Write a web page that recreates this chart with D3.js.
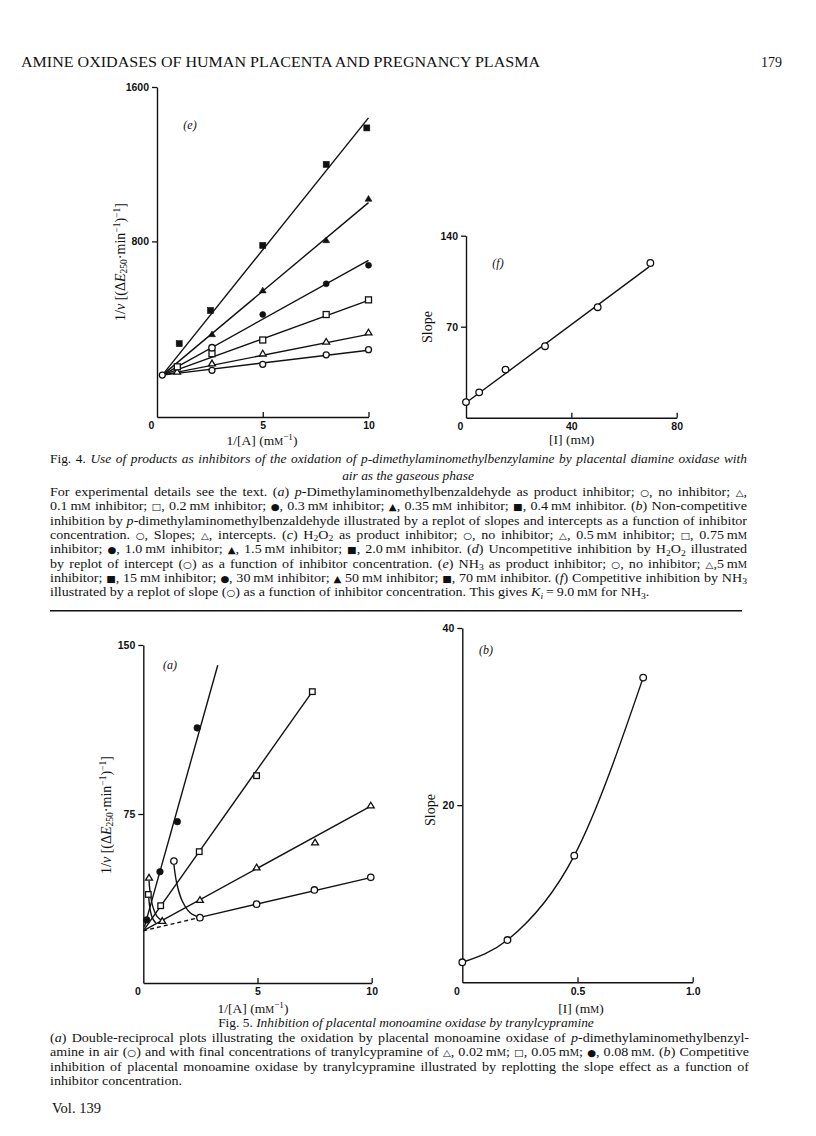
<!DOCTYPE html>
<html><head><meta charset="utf-8">
<script src="https://cdn.jsdelivr.net/npm/d3@7"></script>
<style>body{margin:0;background:#fff} svg{display:block}</style>
</head><body>
<script>
// ---------------- DATA ----------------
// Fig. 4(e): NH3 as product inhibitor, 1/v vs 1/[A]
const e_xTicks = [0, 5, 10];
const e_yTicks = [800, 1600];
const e_origin = [0.25, 107];                       // common intersection of fitted lines
const e_fitEndX = 10;
const e_fitEndY = [236, 318, 494, 702, 1001, 1440]; // fitted line values at 1/[A]=10
const e_shapes = ["circleOpen", "triangleOpen", "squareOpen", "circleFilled", "triangleFilled", "squareFilled"];
const e_none = [[0.25, 107], [2.6, 132], [5, 163], [8, 212], [10, 239]];
const e_5mM = [[0.95, 124], [2.6, 167], [5, 218], [8, 279], [10, 327]];
const e_15mMopen = [[0.96, 150], [2.6, 218], [5, 289], [8, 421], [10, 497]];
const e_30mM = [[5, 421], [8, 580], [10, 676]];
const e_30mMopenPt = [[2.6, 249]];
const e_50mM = [[2.6, 318], [5, 545], [8, 805], [10, 1020]];
const e_70mM = [[1.05, 270], [2.53, 442], [5, 779], [8, 1199], [9.92, 1388]];

// Fig. 4(f): slope replot vs [NH3]
const f_xTicks = [0, 40, 80];
const f_yTicks = [70, 140];
const f_conc = [0, 5, 15, 30, 50, 70];
const f_slope = [12, 19.5, 37, 55, 85, 119];
const f_fit = [[0, 11.5], [69.5, 116]];

// Fig. 5(a): double-reciprocal plots, tranylcypramine
const a_xTicks = [0, 5, 10];
const a_yTicks = [75, 150];
const a_air = [[2.48, 29], [4.96, 35], [7.49, 41.3], [9.96, 46.9]];
const a_airOutlier = [[1.34, 54.1]];
const a_airCurve = [[1.34, 52.6], [1.46, 44.5], [1.7, 36.5], [2.05, 31.2], [2.48, 29.1]];
const a_airFit = [[2.48, 29.1], [10, 46.9]];
const a_airDashed = [[0, 23.2], [2.48, 29.1]];
const a_002 = [[0.25, 46.7], [0.83, 27.5], [2.48, 36.8], [4.96, 51.2], [7.52, 62.3], [9.96, 78.7]];
const a_002Curve = [[0.25, 45.3], [0.31, 39.5], [0.42, 33.8], [0.6, 29.6], [0.83, 27.6]];
const a_002Fit = [[0.05, 23.5], [10, 78.7]];
const a_005 = [[0.22, 39.3], [0.76, 34.3], [2.45, 58.3], [4.96, 92], [7.4, 129.3]];
const a_005Curve = [[0.24, 37.8], [0.3, 32.5], [0.4, 28.8], [0.55, 26.6]];
const a_005Fit = [[0.05, 23.9], [7.4, 129.3]];
const a_008 = [[0.15, 28], [0.73, 49.4], [1.49, 71.6], [2.36, 113.2]];
const a_008Fit = [[0.05, 24.9], [3.26, 141]];

// Fig. 5(b): slope replot vs [I]
const b_xTicks = [0, 0.5, 1.0];
const b_xTickLabels = ["0", "0.5", "1.0"];
const b_yTicks = [20, 40];
const b_conc = [0, 0.196, 0.486, 0.785];
const b_slope = [2.26, 4.77, 14.3, 34.4];

// Text
const headerText = "AMINE OXIDASES OF HUMAN PLACENTA AND PREGNANCY PLASMA";
const pageNumber = "179";
const fig4Title = ["Fig. 4. {i|Use of products as inhibitors of the oxidation of p-dimethylaminomethylbenzylamine by placental diamine oxidase with}",
                   "{i|air as the gaseous phase}"];
const fig4Body = [
 "For experimental details see the text. ({i|a}) {i|p}-Dimethylaminomethylbenzaldehyde as product inhibitor; {y|○}, no inhibitor; {y|△},",
 "0.1\u2009{m} inhibitor; {y|□}, 0.2\u2009{m} inhibitor; {y|●}, 0.3\u2009{m} inhibitor; {y|▲}, 0.35\u2009{m} inhibitor; {y|■}, 0.4\u2009{m} inhibitor. ({i|b}) Non-competitive",
 "inhibition by {i|p}-dimethylaminomethylbenzaldehyde illustrated by a replot of slopes and intercepts as a function of inhibitor",
 "concentration. {y|○}, Slopes; {y|△}, intercepts. ({i|c}) H{b|2}O{b|2} as product inhibitor; {y|○}, no inhibitor; {y|△}, 0.5\u2009{m} inhibitor; {y|□}, 0.75\u2009{m}",
 "inhibitor; {y|●}, 1.0\u2009{m} inhibitor; {y|▲}, 1.5\u2009{m} inhibitor; {y|■}, 2.0\u2009{m} inhibitor. ({i|d}) Uncompetitive inhibition by H{b|2}O{b|2} illustrated",
 "by replot of intercept ({y|○}) as a function of inhibitor concentration. ({i|e}) NH{b|3} as product inhibitor; {y|○}, no inhibitor; {y|△},5\u2009{m}",
 "inhibitor; {y|■}, 15\u2009{m} inhibitor; {y|●}, 30\u2009{m} inhibitor; {y|▲} 50\u2009{m} inhibitor; {y|■}, 70\u2009{m} inhibitor. ({i|f}) Competitive inhibition by NH{b|3}",
 "illustrated by a replot of slope ({y|○}) as a function of inhibitor concentration. This gives {i|K}{j|i}\u2009=\u20099.0\u2009{m} for NH{b|3}."
];
const fig5Title = "Fig. 5. {i|Inhibition of placental monoamine oxidase by tranylcypramine}";
const fig5Body = [
 "({i|a}) Double-reciprocal plots illustrating the oxidation by placental monoamine oxidase of {i|p}-dimethylaminomethylbenzyl-",
 "amine in air ({y|○}) and with final concentrations of tranylcypramine of {y|△}, 0.02\u2009{m}; {y|□}, 0.05\u2009{m}; {y|●}, 0.08\u2009{m}. ({i|b}) Competitive",
 "inhibition of placental monoamine oxidase by tranylcypramine illustrated by replotting the slope effect as a function of",
 "inhibitor concentration."
];
const footerText = "Vol. 139";
const yLabelDiff = "1/{i|v} [(Δ{i|E}{b|250}·min{p|−1}){p|−1}]";
const xLabelRecip = "1/[A] ({m}{p|−1})";
const xLabelConc = "[I] ({m})";
const yLabelSlope = "Slope";

// ---------------- DRAWING ----------------
const SERIF = "'Liberation Serif','Times New Roman',serif";
const TICKF = "'Liberation Sans Narrow','Liberation Sans',Arial,sans-serif";
const INK = "#111";
const svg = d3.select("body").append("svg").attr("width", 816).attr("height", 1136)
  .style("background", "#fff");

function rich(text, str, size) {
  const re = /\{(\w)(?:\|([^}]*))?\}/g;
  let last = 0, m, shift = 0;
  const add = (t, st) => {
    const ts = text.append("tspan").text(t);
    let target = 0;
    if (st === "i") ts.attr("font-style", "italic");
    if (st === "b" || st === "j") { target = size * 0.18; ts.attr("font-size", size * 0.68); }
    if (st === "j") ts.attr("font-style", "italic");
    if (st === "p") { target = -size * 0.34; ts.attr("font-size", size * 0.68); }
    if (st === "c") ts.attr("font-size", size * 0.74);
    if (st === "y") ts.attr("font-family", "'DejaVu Sans',sans-serif").attr("font-size", size * 0.72);
    if (target !== shift) { ts.attr("dy", target - shift); shift = target; }
  };
  while ((m = re.exec(str))) {
    if (m.index > last) add(str.slice(last, m.index), null);
    if (m[1] === "m") { add("m", null); add("M", "c"); }
    else add(m[2], m[1]);
    last = re.lastIndex;
  }
  if (last < str.length) add(str.slice(last), null);
  return text;
}
function line(g, x, y, str, size, anchor, opts = {}) {
  const t = g.append("text").attr("x", x).attr("y", y).attr("font-family", SERIF)
    .attr("font-size", size).attr("fill", INK).attr("text-anchor", anchor || "start");
  rich(t, str, size);
  if (opts.width) {
    const nat = t.node().getComputedTextLength();
    const spaces = (t.text().match(/ /g) || []).length;
    if (spaces) t.attr("word-spacing", ((opts.width - nat) / spaces).toFixed(3));
  }
  return t;
}
// paragraph: glyphs widened to the print's wider face, then justified on the word spaces
function paragraph(g, x, y0, lead, lines, size, width, stretch) {
  lines.forEach((s, i) => {
    const t = g.append("text").attr("x", 0).attr("y", 0).attr("font-family", SERIF)
      .attr("font-size", size).attr("fill", INK)
      .attr("transform", `translate(${x},${y0 + i * lead}) scale(${stretch},1)`);
    rich(t, s, size);
    if (i < lines.length - 1) {
      const nat = t.node().getComputedTextLength();
      const spaces = (t.text().match(/ /g) || []).length;
      if (spaces) t.attr("word-spacing", ((width / stretch - nat) / spaces).toFixed(3));
    }
  });
}

// header
svg.append("text").attr("x", 21).attr("y", 67).attr("font-family", SERIF).attr("font-size", 14)
  .attr("fill", INK).attr("textLength", 519).attr("lengthAdjust", "spacingAndGlyphs").text(headerText);
svg.append("text").attr("x", 782).attr("y", 67).attr("font-family", SERIF).attr("font-size", 14)
  .attr("fill", INK).attr("text-anchor", "end").text(pageNumber);

// marker
function marker(g, px, py, shape, s) {
  s = s || 3;
  const open = shape.endsWith("Open");
  const fill = open ? "#fff" : INK;
  let el;
  if (shape.startsWith("circle")) el = g.append("circle").attr("cx", px).attr("cy", py).attr("r", s);
  else if (shape.startsWith("square")) el = g.append("rect").attr("x", px - s).attr("y", py - s).attr("width", 2 * s).attr("height", 2 * s);
  else {
    const h = s * 1.9, w = s * 1.15;
    el = g.append("path").attr("d", `M${px},${py - h * 0.6}L${px + w},${py + h * 0.4}L${px - w},${py + h * 0.4}Z`);
  }
  el.attr("fill", fill).attr("stroke", INK).attr("stroke-width", open ? 1.3 : 0.6);
}

function axes(g, x, y, xt, yt, xtl) {
  const ya = d3.axisLeft(y).tickValues(yt).tickSize(5).tickSizeOuter(0).tickPadding(3)
    .tickFormat(d3.format("d"));
  const gy = g.append("g").attr("transform", `translate(${x.range()[0]},0)`).call(ya);
  const xa = d3.axisBottom(x).tickValues(xt).tickSize(-5).tickSizeOuter(0).tickPadding(5)
    .tickFormat((d, i) => xtl ? xtl[i] : d3.format("d")(d));
  const gx = g.append("g").attr("transform", `translate(0,${y.range()[0]})`).call(xa);
  [gx, gy].forEach(a => {
    a.select(".domain").attr("stroke", INK).attr("stroke-width", 1.4);
    a.selectAll(".tick line").attr("stroke", INK).attr("stroke-width", 1.3);
    a.selectAll(".tick text").attr("fill", INK).attr("font-family", TICKF)
      .attr("font-weight", "bold").attr("font-size", 10.5);
  });
  gx.selectAll(".tick").filter(d => d === 0).select("line").remove();
  gx.selectAll(".tick").filter(d => d === 0).select("text").attr("dx", -6);
}
function ylabel(g, cx, cy, str, size) {
  const t = g.append("text").attr("transform", `translate(${cx},${cy}) rotate(-90)`)
    .attr("font-family", SERIF).attr("font-size", size).attr("fill", INK)
    .attr("text-anchor", "middle").attr("dy", "0.35em");
  rich(t, str, size);
}
function panelTag(g, px, py, s) {
  g.append("text").attr("x", px).attr("y", py).attr("font-family", SERIF).attr("font-size", 12)
    .attr("font-style", "italic").attr("fill", INK).attr("text-anchor", "middle").text(s);
}
const pathGen = (x, y, curve) => d3.line().x(d => x(d[0])).y(d => y(d[1])).curve(curve || d3.curveLinear);
function drawPath(g, data, x, y, curve, dash) {
  g.append("path").attr("d", pathGen(x, y, curve)(data)).attr("fill", "none")
    .attr("stroke", INK).attr("stroke-width", 1.4).attr("stroke-dasharray", dash || null);
}

// ---- Fig 4(e)
{
  const g = svg.append("g");
  const x = d3.scaleLinear().domain([0, 10]).range([157, 368.5]);
  const y = d3.scaleLinear().domain([-110, 1600]).range([417, 87]);
  axes(g, x, y, e_xTicks, e_yTicks);
  e_fitEndY.forEach(v => drawPath(g, [e_origin, [e_fitEndX, v]], x, y));
  const sets = [e_none, e_5mM, e_15mMopen, e_30mM, e_50mM, e_70mM];
  sets.forEach((s, i) => s.forEach(d => marker(g, x(d[0]), y(d[1]), e_shapes[i], 3)));
  e_30mMopenPt.forEach(d => marker(g, x(d[0]), y(d[1]), "circleOpen", 3.2));
  panelTag(g, 190, 129, "(e)");
  line(g, 262, 444.5, xLabelRecip, 13.5, "middle");
  ylabel(g, 120, 262, yLabelDiff, 14);
}
// ---- Fig 4(f)
{
  const g = svg.append("g");
  const x = d3.scaleLinear().domain([0, 80]).range([466, 676.7]);
  const y = d3.scaleLinear().domain([0, 140]).range([417.7, 235.7]);
  axes(g, x, y, f_xTicks, f_yTicks);
  drawPath(g, f_fit, x, y);
  f_conc.forEach((c, i) => marker(g, x(c), y(f_slope[i]), "circleOpen", 3.3));
  panelTag(g, 498, 267, "(f)");
  line(g, 571.7, 444, xLabelConc, 13.5, "middle");
  ylabel(g, 427, 327, yLabelSlope, 14);
}
// ---- Fig 5(a)
{
  const g = svg.append("g");
  const x = d3.scaleLinear().domain([0, 10]).range([143.3, 371.7]);
  const y = d3.scaleLinear().domain([0, 150]).range([983, 645]);
  axes(g, x, y, a_xTicks, a_yTicks);
  drawPath(g, a_airFit, x, y);
  drawPath(g, a_airDashed, x, y, null, "4,3");
  drawPath(g, a_002Fit, x, y);
  drawPath(g, a_005Fit, x, y);
  drawPath(g, a_008Fit, x, y);
  drawPath(g, a_airCurve, x, y, d3.curveCatmullRom);
  drawPath(g, a_002Curve, x, y, d3.curveCatmullRom);
  drawPath(g, a_005Curve, x, y, d3.curveCatmullRom);
  a_air.concat(a_airOutlier).forEach(d => marker(g, x(d[0]), y(d[1]), "circleOpen", 3.2));
  a_002.forEach(d => marker(g, x(d[0]), y(d[1]), "triangleOpen", 3));
  a_005.forEach(d => marker(g, x(d[0]), y(d[1]), "squareOpen", 2.8));
  a_008.forEach(d => marker(g, x(d[0]), y(d[1]), "circleFilled", 3.3));
  panelTag(g, 170, 669, "(a)");
  line(g, 253, 1012.5, xLabelRecip, 13.5, "middle");
  ylabel(g, 106, 815, yLabelDiff, 14);
}
// ---- Fig 5(b)
{
  const g = svg.append("g");
  const x = d3.scaleLinear().domain([0, 1]).range([462.3, 692.7]);
  const y = d3.scaleLinear().domain([0, 40]).range([982.3, 628]);
  axes(g, x, y, b_xTicks, b_yTicks, b_xTickLabels);
  drawPath(g, b_conc.map((c, i) => [c, b_slope[i]]), x, y, d3.curveMonotoneX);
  b_conc.forEach((c, i) => marker(g, x(c), y(b_slope[i]), "circleOpen", 3.3));
  panelTag(g, 486, 654, "(b)");
  line(g, 581, 1012.5, xLabelConc, 13.5, "middle");
  ylabel(g, 430, 810, yLabelSlope, 14);
}

// ---- captions
line(svg, 50, 463, fig4Title[0], 13.4, "start", { width: 697 });
line(svg, 408, 480, fig4Title[1], 13.4, "middle");
paragraph(svg, 50, 496, 14.35, fig4Body, 12.8, 697, 1.1);
svg.append("line").attr("x1", 50).attr("x2", 742).attr("y1", 610.7).attr("y2", 610.7)
  .attr("stroke", INK).attr("stroke-width", 1.6);
line(svg, 406, 1026.5, fig5Title, 13.4, "middle");
paragraph(svg, 50, 1042, 14.3, fig5Body, 12.8, 699, 1.1);
line(svg, 52, 1113, footerText, 14.5, "start");
</script>
</body></html>
